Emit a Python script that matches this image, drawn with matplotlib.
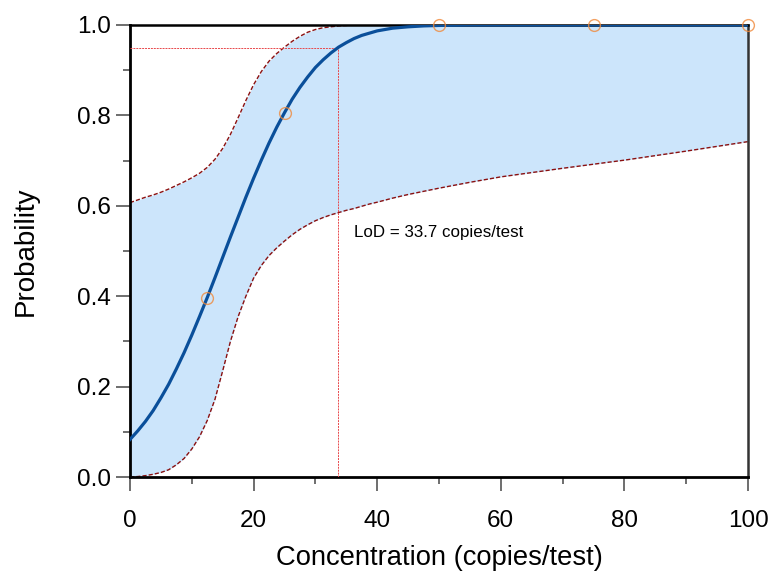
import matplotlib
matplotlib.use("Agg")
import matplotlib.pyplot as plt
from matplotlib.ticker import MultipleLocator, FormatStrFormatter

plt.rcParams['font.family'] = ['Liberation Sans', 'DejaVu Sans']

# observed hit rates
obs_conc = [12.5, 25, 50, 75, 100]
obs_prob = [0.395, 0.805, 1.0, 1.0, 1.0]

# fitted curve and confidence band
curve_x = [0, 1.25, 2.5, 3.75, 5, 6.25, 7.5, 8.75, 10, 11.25,
           12.5, 13.75, 15, 16.25, 17.5, 18.75, 20, 21.25, 22.5, 23.75,
           25, 26.25, 27.5, 28.75, 30, 31.25, 32.5, 33.75, 35, 36.25,
           37.5, 38.75, 40, 42.5, 45, 47.5, 50, 55, 60, 70, 80, 90, 100]
fit_p = [0.083, 0.102, 0.123, 0.147, 0.175, 0.205, 0.239, 0.275, 0.314, 0.355,
         0.397, 0.441, 0.486, 0.531, 0.575, 0.619, 0.661, 0.701, 0.739, 0.774,
         0.806, 0.836, 0.862, 0.885, 0.906, 0.923, 0.938, 0.951, 0.961, 0.970,
         0.977, 0.982, 0.987, 0.993, 0.996, 0.998, 0.999, 1.0, 1.0, 1.0,
         1.0, 1.0, 1.0]
upper_p = [0.607, 0.613, 0.619, 0.624, 0.630, 0.637, 0.645, 0.653, 0.662, 0.672,
           0.685, 0.703, 0.727, 0.758, 0.795, 0.833, 0.868, 0.897, 0.920, 0.937,
           0.951, 0.964, 0.975, 0.984, 0.990, 0.994, 0.996, 0.998, 0.999, 1.0,
           1.0, 1.0, 1.0, 1.0, 1.0, 1.0, 1.0, 1.0, 1.0, 1.0,
           1.0, 1.0, 1.0]
lower_p = [0.0, 0.001, 0.003, 0.006, 0.010, 0.016, 0.027, 0.041, 0.062, 0.089,
           0.125, 0.172, 0.235, 0.300, 0.355, 0.400, 0.440, 0.468, 0.490, 0.507,
           0.522, 0.536, 0.548, 0.558, 0.567, 0.574, 0.580, 0.585, 0.590, 0.594,
           0.599, 0.604, 0.608, 0.617, 0.625, 0.632, 0.639, 0.652, 0.664, 0.683,
           0.701, 0.721, 0.742]

lod_value = 33.7
lod_prob = 0.95
lod_label = "LoD = 33.7 copies/test"

fig = plt.figure(figsize=(7.71, 5.73), dpi=100)
ax = fig.add_axes([130/771, 1-477/573, (748-130)/771, (477-25)/573])

ax.fill_between(curve_x, lower_p, upper_p, color='#cce5fb', lw=0, zorder=1)
ax.plot(curve_x, upper_p, color='#8b1010', lw=1.0, ls=(0, (3, 1.5)), zorder=2)
ax.plot(curve_x, lower_p, color='#8b1010', lw=1.0, ls=(0, (3, 1.5)), zorder=2)

ax.plot([0, lod_value], [lod_prob, lod_prob], color='#e8474a', lw=0.7,
        ls=(0, (2, 1)), zorder=3)
ax.plot([lod_value, lod_value], [0, lod_prob], color='#e8474a', lw=0.7,
        ls=(0, (2, 1)), zorder=3)

ax.plot(curve_x, fit_p, color='#0a4f9a', lw=2.3, zorder=4)
ax.plot(obs_conc, obs_prob, ls='none', marker='o', ms=8.5, mfc='none',
        mec='#f08a3c', mew=1.0, alpha=0.8, zorder=5, clip_on=False)

ax.text(36.2, 0.542, lod_label, fontsize=12.2, va='center', ha='left', zorder=6)

ax.set_xlim(0, 100)
ax.set_ylim(0, 1)
ax.xaxis.set_major_locator(MultipleLocator(20))
ax.xaxis.set_minor_locator(MultipleLocator(10))
ax.yaxis.set_major_locator(MultipleLocator(0.2))
ax.yaxis.set_minor_locator(MultipleLocator(0.1))
ax.yaxis.set_major_formatter(FormatStrFormatter('%.1f'))

for side in ['left', 'bottom']:
    ax.spines[side].set_linewidth(2.0)
    ax.spines[side].set_color('black')
ax.spines['top'].set_linewidth(1.8)
ax.spines['right'].set_linewidth(1.8)
ax.spines['right'].set_color('#333333')

ax.tick_params(which='major', direction='out', length=10, width=1.2,
               color='#555555', labelsize=17.5)
ax.tick_params(axis='x', which='major', pad=14)
ax.tick_params(axis='y', which='major', pad=3.5)
ax.tick_params(which='minor', direction='out', length=5, width=1.2,
               color='#555555')

ax.set_xlabel("Concentration (copies/test)", fontsize=19.7, labelpad=9)
ax.set_ylabel("Probability", fontsize=20, labelpad=27.5)

fig.savefig("out.png", dpi=100)
